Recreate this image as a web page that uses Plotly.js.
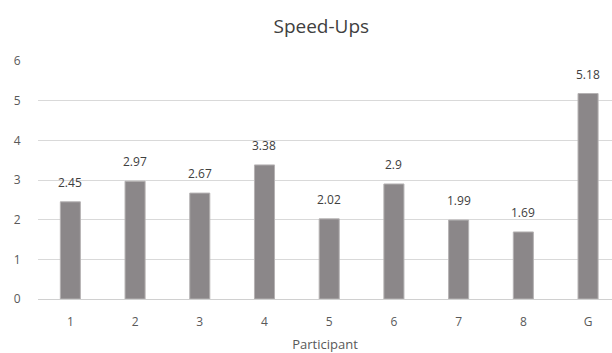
<!DOCTYPE html>
<html>
<head>
<meta charset="utf-8">
<script src="https://cdn.plot.ly/plotly-3.0.1.min.js"></script>
<style>html,body{margin:0;padding:0;background:#fff}#chart{width:612px;height:353px}</style>
</head>
<body>
<div id="chart"></div>
<script>
var categories = ["1", "2", "3", "4", "5", "6", "7", "8", "G"];
var speedUps = [2.45, 2.97, 2.67, 3.38, 2.02, 2.9, 1.99, 1.69, 5.18];
var labels = ["2.45", "2.97", "2.67", "3.38", "2.02", "2.9", "1.99", "1.69", "5.18"];

var fontFam = "'Open Sans', Lato, sans-serif";
var trace = {
  type: "bar",
  x: categories,
  y: speedUps,
  width: 0.31,
  marker: {color: "#8b8789", line: {color: "#b5b2b3", width: 1}},
  hoverinfo: "none"
};
var annotations = categories.map(function(c, i) {
  return {
    x: i, y: speedUps[i], text: labels[i], showarrow: false,
    xref: "x", yref: "y", yanchor: "bottom", yshift: 9,
    font: {family: fontFam, size: 12, color: "#404040"}
  };
});
var layout = {
  width: 612, height: 353,
  margin: {l: 38, r: 0, t: 61, b: 54},
  paper_bgcolor: "#fff", plot_bgcolor: "#fff",
  title: {text: "Speed-Ups", x: 0.525, xanchor: "center", y: 0.925, yanchor: "middle",
          font: {family: fontFam, size: 19, color: "#404040"}},
  showlegend: false,
  xaxis: {
    type: "category", range: [-0.5, 8.37],
    showgrid: false, zeroline: false, showline: false,
    ticks: "outside", ticklen: 12, tickcolor: "rgba(0,0,0,0)",
    tickfont: {family: fontFam, size: 12, color: "#595959"},
    title: {text: "Participant", standoff: 15, font: {family: fontFam, size: 13, color: "#595959"}},
    fixedrange: true
  },
  yaxis: {
    range: [0, 6], dtick: 1, tick0: 0,
    showgrid: true, gridcolor: "#d9d9d9", gridwidth: 1,
    zeroline: true, zerolinecolor: "#d0d0d0", zerolinewidth: 1,
    showline: false,
    ticks: "outside", ticklen: 14, tickcolor: "rgba(0,0,0,0)",
    tickfont: {family: fontFam, size: 12, color: "#595959"},
    fixedrange: true
  },
  annotations: annotations
};
Plotly.newPlot("chart", [trace], layout, {displayModeBar: false, staticPlot: true});
</script>
</body>
</html>
